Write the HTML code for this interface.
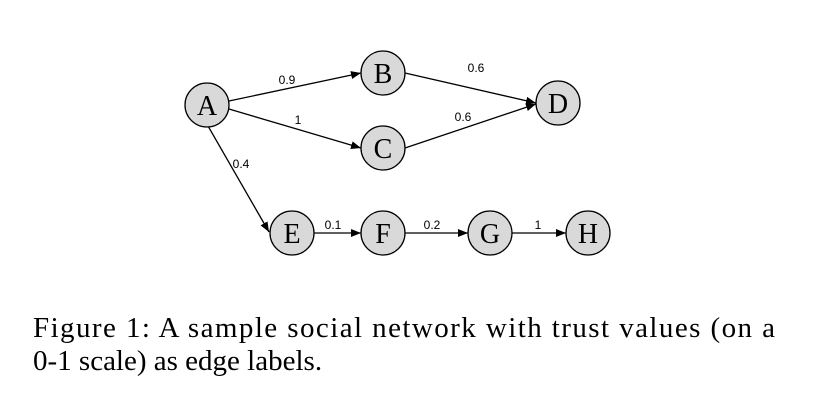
<!DOCTYPE html>
<html><head><style>body{margin:0;background:#fff}</style></head><body>
<svg width="815" height="409" viewBox="0 0 815 409" xmlns="http://www.w3.org/2000/svg">
<defs><marker id="ar" markerWidth="10" markerHeight="8" refX="10" refY="4" orient="auto" markerUnits="userSpaceOnUse"><path d="M0,0 L10,4 L0,8 z" fill="#000"/></marker></defs>
<g stroke="#000" stroke-width="1.3" fill="none" marker-end="url(#ar)">
<line x1="229" y1="101" x2="361" y2="73"/>
<line x1="229" y1="109" x2="361" y2="148"/>
<line x1="405" y1="73" x2="536" y2="103"/>
<line x1="405" y1="148" x2="536" y2="104"/>
<line x1="208" y1="126" x2="269" y2="232"/>
<line x1="314" y1="233" x2="361" y2="233"/>
<line x1="405" y1="233" x2="468" y2="233"/>
<line x1="512" y1="233" x2="566" y2="233"/>
</g>
<g fill="#d9d9d9" stroke="#000" stroke-width="1.3">
<circle cx="207" cy="105" r="22"/><circle cx="383" cy="73" r="22"/><circle cx="383" cy="148" r="22"/><circle cx="558" cy="103" r="22"/>
<circle cx="292" cy="233" r="22"/><circle cx="383" cy="233" r="22"/><circle cx="490" cy="233" r="22"/><circle cx="588" cy="233" r="22"/>
</g>
<g font-family="Liberation Serif, serif" font-size="28" text-anchor="middle">
<text x="207" y="115">A</text><text x="383" y="83">B</text><text x="383" y="158">C</text><text x="558" y="113">D</text>
<text x="292" y="243">E</text><text x="383" y="243">F</text><text x="490" y="243">G</text><text x="588" y="243">H</text>
</g>
<g font-family="Liberation Sans, sans-serif" font-size="12" text-anchor="middle">
<text x="287" y="84">0.9</text><text x="298" y="124">1</text><text x="476" y="72">0.6</text><text x="463" y="121">0.6</text>
<text x="241" y="168">0.4</text><text x="333" y="229">0.1</text><text x="432" y="229">0.2</text><text x="538" y="229">1</text>
</g>
<g font-family="Liberation Serif, serif" font-size="29">
<text x="33" y="337" textLength="742" lengthAdjust="spacing">Figure 1:  A sample social network with trust values (on a</text>
<text x="33" y="370">0-1 scale) as edge labels.</text>
</g>
</svg>
</body></html>
